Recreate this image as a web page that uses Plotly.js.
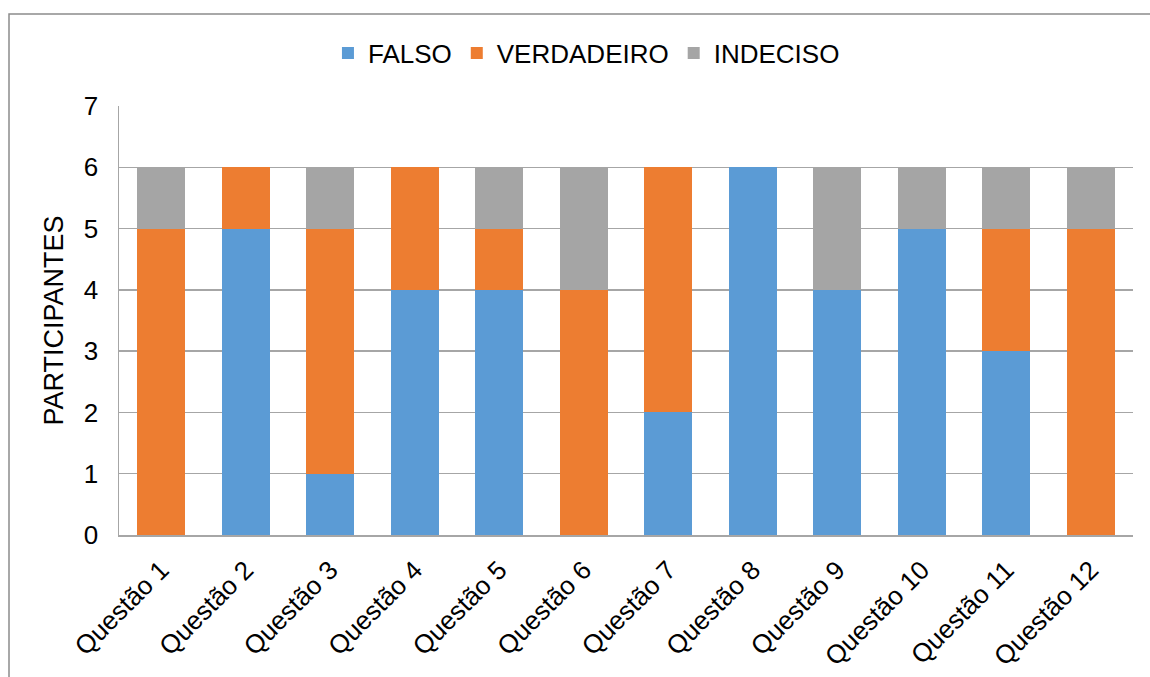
<!DOCTYPE html>
<html>
<head>
<meta charset="utf-8">
<script src="https://cdn.plot.ly/plotly-3.0.1.min.js"></script>
<style>html,body{margin:0;padding:0;background:#fff;}#chart{width:1150px;height:677px;}</style>
</head>
<body>
<div id="chart"></div>
<script>
const categories = ["Questão 1","Questão 2","Questão 3","Questão 4","Questão 5","Questão 6","Questão 7","Questão 8","Questão 9","Questão 10","Questão 11","Questão 12"];
const falso      = [0,5,1,4,4,0,2,6,4,5,3,0];
const verdadeiro = [5,1,4,2,1,4,4,0,0,0,2,5];
const indeciso   = [1,0,1,0,1,2,0,0,2,1,1,1];
const yTicks = [0,1,2,3,4,5,6,7];

const font = {family: '"Liberation Sans", Arial, sans-serif', color: '#000'};
const traces = [
  {type:'bar', name:'FALSO', x:categories, y:falso, marker:{color:'#5B9BD5'}},
  {type:'bar', name:'VERDADEIRO', x:categories, y:verdadeiro, marker:{color:'#ED7D31'}},
  {type:'bar', name:'INDECISO', x:categories, y:indeciso, marker:{color:'#A5A5A5'}}
];
const layout = {
  width:1150, height:677,
  margin:{l:119, r:17, t:106, b:142},
  barmode:'stack', bargap:0.43,
  paper_bgcolor:'#fff', plot_bgcolor:'#fff',
  font: Object.assign({size:26}, font),
  showlegend:true,
  legend:{orientation:'h', x:0.461, xanchor:'center', y:1.1235, yanchor:'middle',
          font:Object.assign({size:26}, font), itemclick:false, traceorder:'normal'},
  xaxis:{type:'category', tickangle:-45, tickfont:Object.assign({size:26}, font),
         showline:true, linecolor:'#a6a6a6', linewidth:1.5, ticks:'outside', ticklen:8, tickcolor:'rgba(0,0,0,0)', showgrid:false},
  yaxis:{range:[0,7], tickvals:yTicks, ticktext:yTicks.map(String), tickfont:Object.assign({size:26}, font),
         showgrid:true, gridcolor:'#a6a6a6', gridwidth:1.3, zeroline:false,
         showline:true, linecolor:'#a6a6a6', linewidth:1.5, ticks:'outside', ticklen:14, tickcolor:'rgba(0,0,0,0)',
         title:{text:'PARTICIPANTES', font:Object.assign({size:27}, font), standoff:12}},
  shapes:[{type:'rect', xref:'paper', yref:'paper',
           x0:(9-119)/1014, x1:(1170-119)/1014, y0:(535-700)/429, y1:(535-14)/429,
           line:{color:'#8c8c8c', width:1.5}, fillcolor:'rgba(0,0,0,0)', layer:'below'}]
};
Plotly.newPlot('chart', traces, layout, {staticPlot:true, displayModeBar:false});
</script>
</body>
</html>
